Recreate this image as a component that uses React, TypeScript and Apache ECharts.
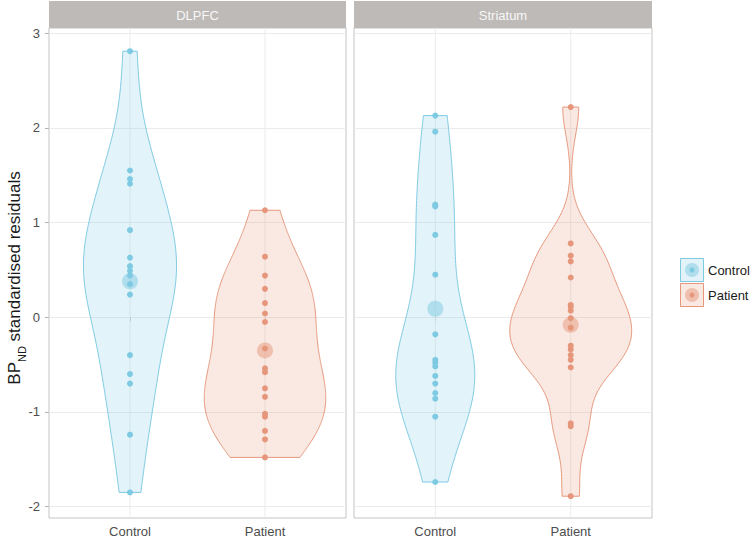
import React, { useEffect, useRef } from 'react';
import * as echarts from 'echarts';

const regions = ['DLPFC', 'Striatum'];
const groups = ['Control', 'Patient'];

const dlpfcControl = [2.81, 1.55, 1.46, 1.41, 0.92, 0.63, 0.54, 0.49, 0.44, 0.35, 0.24, -0.40, -0.60, -0.70, -1.24, -1.85];
const dlpfcPatient = [1.13, 0.64, 0.44, 0.30, 0.15, 0.04, -0.05, -0.33, -0.54, -0.58, -0.75, -0.84, -1.02, -1.05, -1.20, -1.29, -1.48];
const striatumControl = [2.13, 1.96, 1.19, 1.17, 0.87, 0.45, -0.18, -0.45, -0.48, -0.52, -0.62, -0.70, -0.80, -0.86, -1.05, -1.74];
const striatumPatient = [2.22, 0.78, 0.65, 0.59, 0.42, 0.13, 0.11, 0.07, -0.01, -0.11, -0.30, -0.34, -0.40, -0.45, -0.53, -1.12, -1.15, -1.89];

const dlpfcMeans = [0.38, -0.35];
const striatumMeans = [0.09, -0.08];

const yTicks = [-2, -1, 0, 1, 2, 3];
const Y_MIN = -2.12;
const Y_MAX = 3.055;

const panelData = [
  [dlpfcControl, dlpfcPatient],
  [striatumControl, striatumPatient],
];
const panelMeans = [dlpfcMeans, striatumMeans];

const COLORS = ['#7dcae2', '#e6977b'];
const FONT = "'Liberation Sans', Arial, Helvetica, sans-serif";

function rgba(hex: string, a: number) {
  const r = parseInt(hex.slice(1, 3), 16);
  const g = parseInt(hex.slice(3, 5), 16);
  const b = parseInt(hex.slice(5, 7), 16);
  return `rgba(${r},${g},${b},${a})`;
}

function quantile7(sorted: number[], p: number) {
  const h = (sorted.length - 1) * p;
  const lo = Math.floor(h);
  const hi = Math.min(lo + 1, sorted.length - 1);
  return sorted[lo] + (h - lo) * (sorted[hi] - sorted[lo]);
}

function bwNrd0(x: number[]) {
  const n = x.length;
  const mean = x.reduce((a, b) => a + b, 0) / n;
  const sd = Math.sqrt(x.reduce((a, b) => a + (b - mean) * (b - mean), 0) / (n - 1));
  const s = [...x].sort((a, b) => a - b);
  const iqr = quantile7(s, 0.75) - quantile7(s, 0.25);
  let lo = Math.min(sd, iqr / 1.34);
  if (!lo) lo = sd || Math.abs(s[0]) || 1;
  return 0.9 * lo * Math.pow(n, -0.2);
}

function kde(x: number[]) {
  const bw = bwNrd0(x);
  const mn = Math.min(...x);
  const mx = Math.max(...x);
  const N = 256;
  const out: [number, number][] = [];
  for (let i = 0; i < N; i++) {
    const y = mn + ((mx - mn) * i) / (N - 1);
    let d = 0;
    for (const v of x) {
      const z = (y - v) / bw;
      d += Math.exp(-0.5 * z * z);
    }
    d /= x.length * bw * Math.sqrt(2 * Math.PI);
    out.push([y, d]);
  }
  return out;
}

function buildViolins() {
  return panelData.map((pg) => {
    const dens = pg.map((vals) => kde(vals));
    const maxD = Math.max(...dens.map((d) => Math.max(...d.map((p) => p[1]))));
    return dens.map((d, gi) => {
      const xc = gi + 1;
      const right = d.map(([y, v]) => [xc + (v / maxD) * 0.45, y]);
      const left = d.slice().reverse().map(([y, v]) => [xc - (v / maxD) * 0.45, y]);
      return [...right, ...left];
    });
  });
}

export default function App() {
  const ref = useRef<HTMLDivElement>(null);

  useEffect(() => {
    if (!ref.current) return;
    const chart = echarts.init(ref.current, undefined, { renderer: 'svg' });
    const violins = buildViolins();

    const gridDefs = [
      { left: 49, top: 28, width: 297, height: 490 },
      { left: 354, top: 28, width: 298, height: 490 },
    ];

    const grid = gridDefs.map((g) => ({
      ...g,
      show: true,
      borderColor: '#c4c4c4',
      borderWidth: 1,
      backgroundColor: 'transparent',
      containLabel: false,
    }));

    const xAxis = gridDefs.map((_, i) => ({
      gridIndex: i,
      type: 'value',
      min: 0.4,
      max: 2.6,
      axisLine: { show: false },
      splitLine: { show: false },
      axisTick: {
        show: true,
        customValues: [1, 2],
        length: 4,
        lineStyle: { color: '#b3b3b3' },
      },
      axisLabel: {
        show: true,
        customValues: [1, 2],
        formatter: (v: number) => groups[Math.round(v) - 1] ?? '',
        color: '#4d4d4d',
        fontSize: 13,
        fontFamily: FONT,
        margin: 7,
      },
    }));

    const yAxis = gridDefs.map((_, i) => ({
      gridIndex: i,
      type: 'value',
      min: Y_MIN,
      max: Y_MAX,
      interval: 0.5,
      axisLine: { show: false },
      axisTick: {
        show: i === 0,
        customValues: yTicks,
        length: 4,
        lineStyle: { color: '#b3b3b3' },
      },
      axisLabel: {
        show: i === 0,
        customValues: yTicks,
        color: '#4d4d4d',
        fontSize: 13,
        fontFamily: FONT,
        margin: 9,
      },
      splitLine: { show: true, lineStyle: { color: '#ebebeb', width: 1 } },
    }));

    const series: any[] = [];
    for (let p = 0; p < 2; p++) {
      series.push({
        type: 'custom',
        xAxisIndex: p,
        yAxisIndex: p,
        z: 1,
        silent: true,
        data: [[1, 0], [2, 0]],
        renderItem: (params: any, api: any) => {
          const x = api.value(0);
          const a = api.coord([x, Y_MIN]);
          const b = api.coord([x, Y_MAX]);
          return {
            type: 'line',
            shape: { x1: a[0], y1: a[1], x2: b[0], y2: b[1] },
            style: { stroke: '#ebebeb', lineWidth: 1 },
          };
        },
      });
      for (let g = 0; g < 2; g++) {
        const poly = violins[p][g];
        const color = COLORS[g];
        series.push({
          type: 'custom',
          xAxisIndex: p,
          yAxisIndex: p,
          z: 2,
          silent: true,
          data: [[g + 1, 0]],
          renderItem: (params: any, api: any) => {
            const pts = poly.map((pt) => api.coord(pt));
            return {
              type: 'polygon',
              shape: { points: pts },
              style: { fill: rgba(color, 0.22), stroke: color, lineWidth: 1 },
            };
          },
        });
        series.push({
          type: 'scatter',
          xAxisIndex: p,
          yAxisIndex: p,
          z: 3,
          symbolSize: 6,
          itemStyle: { color, opacity: 1 },
          data: panelData[p][g].map((v) => [g + 1, v]),
        });
        series.push({
          type: 'scatter',
          xAxisIndex: p,
          yAxisIndex: p,
          z: 4,
          symbolSize: 16,
          itemStyle: { color, opacity: 0.5 },
          data: [[g + 1, panelMeans[p][g]]],
        });
      }
    }

    const graphic: any[] = [];
    gridDefs.forEach((g, i) => {
      graphic.push({
        type: 'rect',
        shape: { x: g.left, y: 1, width: g.width, height: 27 },
        style: { fill: '#bebab7' },
        silent: true,
      });
      graphic.push({
        type: 'text',
        x: g.left + g.width / 2,
        y: 15,
        style: {
          text: regions[i],
          fill: '#f7f7f7',
          font: `13px ${FONT}`,
          align: 'center',
          verticalAlign: 'middle',
        },
        silent: true,
      });
    });

    graphic.push({
      type: 'text',
      x: 14,
      y: 278,
      rotation: Math.PI / 2,
      style: {
        text: '{a|BP}{s|ND}{a| standardised residuals}',
        align: 'center',
        verticalAlign: 'middle',
        rich: {
          a: { fontSize: 17, fontFamily: FONT, fill: '#1a1a1a', lineHeight: 26, verticalAlign: 'middle' },
          s: { fontSize: 11, fontFamily: FONT, fill: '#1a1a1a', lineHeight: 26, verticalAlign: 'bottom' },
        },
      },
      silent: true,
    });

    groups.forEach((name, i) => {
      const y0 = 258 + i * 25;
      const color = COLORS[i];
      graphic.push({
        type: 'rect',
        shape: { x: 680.5, y: y0 + 0.5, width: 23, height: 23 },
        style: { fill: rgba(color, 0.22), stroke: color, lineWidth: 1 },
        silent: true,
      });
      graphic.push({
        type: 'circle',
        shape: { cx: 692, cy: y0 + 12, r: 7 },
        style: { fill: rgba(color, 0.5) },
        silent: true,
      });
      graphic.push({
        type: 'circle',
        shape: { cx: 692, cy: y0 + 12, r: 2.5 },
        style: { fill: color },
        silent: true,
      });
      graphic.push({
        type: 'text',
        x: 708,
        y: y0 + 12,
        style: {
          text: name,
          fill: '#1a1a1a',
          font: `13px ${FONT}`,
          align: 'left',
          verticalAlign: 'middle',
        },
        silent: true,
      });
    });

    chart.setOption({
      animation: false,
      backgroundColor: '#ffffff',
      grid,
      xAxis,
      yAxis,
      series,
      graphic,
    });

    return () => chart.dispose();
  }, []);

  return (
    <div
      ref={ref}
      style={{ position: 'fixed', left: 0, top: 0, width: 752, height: 539 }}
    />
  );
}
